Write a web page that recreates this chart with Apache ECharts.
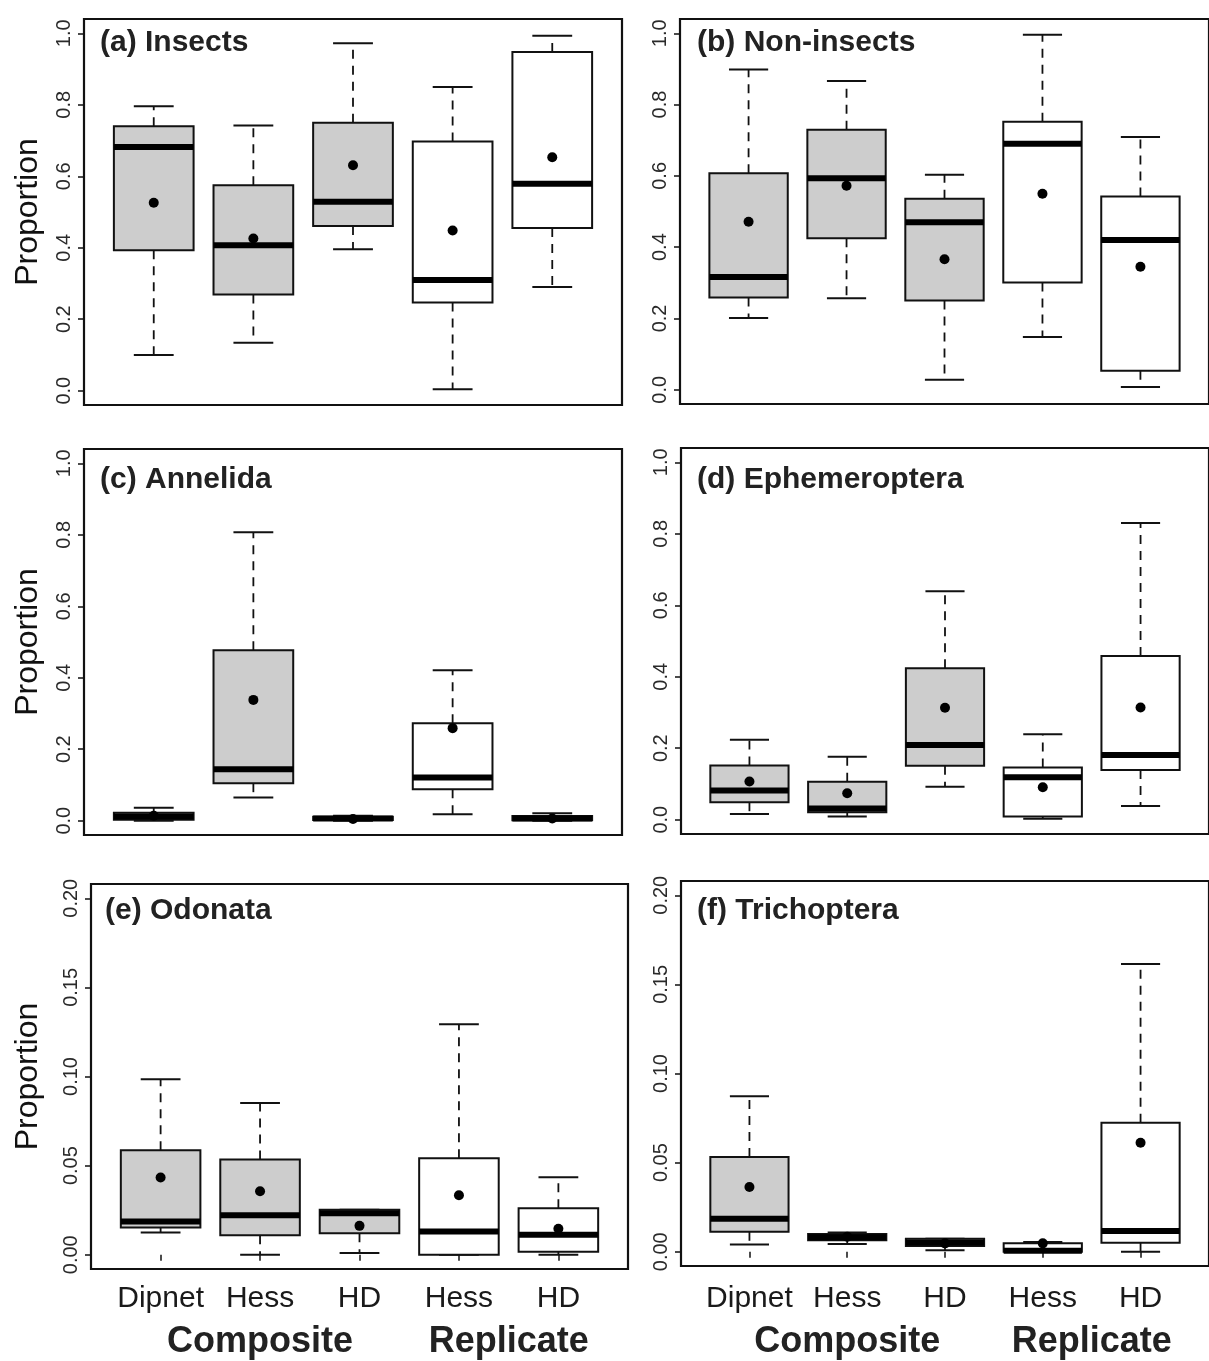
<!DOCTYPE html>
<html>
<head>
<meta charset="utf-8">
<script src="https://cdn.jsdelivr.net/npm/echarts@6/dist/echarts.min.js"></script>
<style>
  html, body { margin: 0; padding: 0; background: #fff; }
  #chart { width: 1209px; height: 1361px; }
</style>
</head>
<body>
<div id="chart"></div>
<script>
// ---- Data ----
const boxLabels = ['Dipnet', 'Hess', 'HD', 'Hess', 'HD'];
const boxMethods = ['Composite', 'Composite', 'Composite', 'Replicate', 'Replicate'];
const groupLabels = ['Composite', 'Replicate'];
const panelTitles = ['(a) Insects', '(b) Non-insects', '(c) Annelida', '(d) Ephemeroptera', '(e) Odonata', '(f) Trichoptera'];
const ticksUnit = [0, 0.2, 0.4, 0.6, 0.8, 1.0];
const ticksSmall = [0, 0.05, 0.10, 0.15, 0.20];

// each box: [lower whisker, Q1, median, Q3, upper whisker]
const insects = [
  [0.100, 0.393, 0.682, 0.740, 0.796],
  [0.134, 0.269, 0.407, 0.575, 0.742],
  [0.396, 0.461, 0.529, 0.750, 0.972],
  [0.004, 0.247, 0.310, 0.697, 0.850],
  [0.290, 0.455, 0.579, 0.948, 0.993]
];
const insectsMean = [0.526, 0.426, 0.631, 0.448, 0.653];

const nonInsects = [
  [0.201, 0.259, 0.316, 0.607, 0.898],
  [0.257, 0.425, 0.593, 0.729, 0.866],
  [0.028, 0.250, 0.470, 0.536, 0.603],
  [0.148, 0.301, 0.690, 0.752, 0.996],
  [0.008, 0.053, 0.420, 0.542, 0.709]
];
const nonInsectsMean = [0.471, 0.572, 0.366, 0.550, 0.345];

const annelida = [
  [0.000, 0.003, 0.012, 0.022, 0.036],
  [0.065, 0.105, 0.144, 0.477, 0.807],
  [0.000, 0.002, 0.006, 0.011, 0.014],
  [0.018, 0.088, 0.121, 0.273, 0.421],
  [0.000, 0.001, 0.006, 0.013, 0.021]
];
const annelidaMean = [0.014, 0.338, 0.005, 0.259, 0.006];

const ephemeroptera = [
  [0.016, 0.049, 0.082, 0.152, 0.224],
  [0.009, 0.021, 0.031, 0.106, 0.176],
  [0.092, 0.151, 0.209, 0.424, 0.639],
  [0.003, 0.009, 0.119, 0.146, 0.239],
  [0.038, 0.139, 0.181, 0.458, 0.830]
];
const ephemeropteraMean = [0.107, 0.074, 0.313, 0.091, 0.314];

const odonata = [
  [0.0125, 0.0153, 0.0187, 0.0586, 0.0985],
  [0.0000, 0.0110, 0.0222, 0.0535, 0.0851],
  [0.0010, 0.0121, 0.0233, 0.0252, 0.0252],
  [0.0000, 0.0000, 0.0131, 0.0541, 0.1293],
  [0.0000, 0.0017, 0.0112, 0.0261, 0.0435]
];
const odonataMean = [0.0433, 0.0356, 0.0162, 0.0334, 0.0146];

const trichoptera = [
  [0.0041, 0.0112, 0.0185, 0.0531, 0.0873],
  [0.0043, 0.0064, 0.0082, 0.0099, 0.0108],
  [0.0009, 0.0032, 0.0052, 0.0073, 0.0073],
  [0.0000, 0.0000, 0.0005, 0.0047, 0.0054],
  [0.0000, 0.0050, 0.0116, 0.0723, 0.1615]
];
const trichopteraMean = [0.0363, 0.0084, 0.0047, 0.0047, 0.0611];

// ---- Layout ----
const panelStats = [insects, nonInsects, annelida, ephemeroptera, odonata, trichoptera];
const panelMeans = [insectsMean, nonInsectsMean, annelidaMean, ephemeropteraMean, odonataMean, trichopteraMean];
const grids = [
  { left: 84,  top: 19,  width: 538, height: 386 },
  { left: 680, top: 19,  width: 538, height: 385 },
  { left: 84,  top: 449, width: 538, height: 386 },
  { left: 681, top: 448, width: 538, height: 386 },
  { left: 91,  top: 884, width: 537, height: 385 },
  { left: 681, top: 881, width: 537, height: 385 }
];
const titlePos = [[100, 28], [697, 28], [100, 465], [697, 465], [105, 896], [697, 896]];
const labelMargins = [15, 18];
const groupMargins = [55, 58];
const FONT = '"Liberation Sans", Arial, Helvetica, sans-serif';

const chart = echarts.init(document.getElementById('chart'), null, { renderer: 'canvas' });

const option = {
  backgroundColor: '#ffffff',
  animation: false,
  title: [],
  grid: [],
  xAxis: [],
  yAxis: [],
  series: []
};

const groupAxes = [];

for (let p = 0; p < 6; p++) {
  const small = p >= 4;
  const ticks = small ? ticksSmall : ticksUnit;
  const yMin = small ? -0.008 : -0.04;
  const yMax = small ? 0.208 : 1.04;
  const showY = (p % 2 === 0);
  const bottomRow = p >= 4;

  option.grid.push(Object.assign({
    show: true, borderColor: '#111', borderWidth: 2.2, backgroundColor: 'transparent'
  }, grids[p]));

  option.title.push({
    text: panelTitles[p],
    left: titlePos[p][0], top: titlePos[p][1], padding: 0,
    textStyle: { fontFamily: FONT, fontSize: 30, fontWeight: 'bold', color: '#222' }
  });

  option.xAxis.push({
    type: 'value', gridIndex: p, min: 0.3, max: 5.7, position: 'bottom',
    splitLine: { show: false },
    axisLine: { show: false },
    axisTick: bottomRow ? { show: true, customValues: [1, 2, 3, 4, 5], length: 6, lineStyle: { color: '#111', width: 1.5 } } : { show: false },
    axisLabel: bottomRow ? {
      show: true, customValues: [1, 2, 3, 4, 5], margin: labelMargins[p - 4],
      formatter: v => boxLabels[Math.round(v) - 1] || '',
      fontFamily: FONT, fontSize: 30, color: '#1a1a1a'
    } : { show: false }
  });

  option.yAxis.push({
    type: 'value', gridIndex: p, min: yMin, max: yMax,
    splitLine: { show: false },
    axisLine: { show: false },
    axisTick: { show: true, customValues: ticks, length: 6, lineStyle: { color: '#111', width: 1.5 } },
    axisLabel: {
      show: true, customValues: ticks, rotate: 90, margin: 10,
      formatter: v => v.toFixed(small ? 2 : 1),
      fontFamily: FONT, fontSize: 20, color: '#2a2a2a'
    },
    name: showY ? 'Proportion' : '',
    nameLocation: 'middle', nameRotate: 90, nameGap: small ? 47 : 40,
    nameTextStyle: { fontFamily: FONT, fontSize: 32, color: '#111' }
  });

  const stats = panelStats[p];
  const means = panelMeans[p];
  const data = stats.map((s, i) => [i + 1, s[0], s[1], s[2], s[3], s[4], means[i]]);

  option.series.push({
    type: 'custom',
    xAxisIndex: p, yAxisIndex: p,
    encode: { x: 0, y: [1, 2, 3, 4, 5, 6] },
    data: data,
    clip: false,
    renderItem: function (params, api) {
      const x = api.value(0);
      const idx = params.dataIndex;
      const xc = api.coord([x, 0])[0];
      const xl = api.coord([x - 0.4, 0])[0];
      const xr = api.coord([x + 0.4, 0])[0];
      const sl = api.coord([x - 0.2, 0])[0];
      const sr = api.coord([x + 0.2, 0])[0];
      const yLow = api.coord([x, api.value(1)])[1];
      const yQ1 = api.coord([x, api.value(2)])[1];
      const yMed = api.coord([x, api.value(3)])[1];
      const yQ3 = api.coord([x, api.value(4)])[1];
      const yHigh = api.coord([x, api.value(5)])[1];
      const yMean = api.coord([x, api.value(6)])[1];
      const fill = boxMethods[idx] === 'Composite' ? '#cdcdcd' : '#ffffff';
      const dash = { stroke: '#111', lineWidth: 1.8, lineDash: [9, 7] };
      const solid = { stroke: '#111', lineWidth: 2 };
      return {
        type: 'group',
        children: [
          { type: 'line', shape: { x1: xc, y1: yQ3, x2: xc, y2: yHigh }, style: dash },
          { type: 'line', shape: { x1: xc, y1: yQ1, x2: xc, y2: yLow }, style: dash },
          { type: 'line', shape: { x1: sl, y1: yHigh, x2: sr, y2: yHigh }, style: solid },
          { type: 'line', shape: { x1: sl, y1: yLow, x2: sr, y2: yLow }, style: solid },
          { type: 'rect', shape: { x: xl, y: yQ3, width: xr - xl, height: yQ1 - yQ3 },
            style: { fill: fill, stroke: '#111', lineWidth: 2 } },
          { type: 'line', shape: { x1: xl, y1: yMed, x2: xr, y2: yMed },
            style: { stroke: '#000', lineWidth: 6 } },
          { type: 'circle', shape: { cx: xc, cy: yMean, r: 5 }, style: { fill: '#000' } }
        ]
      };
    }
  });

  if (bottomRow) {
    // group labels (Composite / Replicate) as a second x axis on the same grid
    groupAxes.push({
      type: 'value', gridIndex: p, min: 0.3, max: 5.7, position: 'bottom',
      splitLine: { show: false }, axisLine: { show: false }, axisTick: { show: false },
      axisLabel: {
        show: true, customValues: [2, 4.5], margin: groupMargins[p - 4],
        formatter: v => (v < 3 ? groupLabels[0] : groupLabels[1]),
        fontFamily: FONT, fontSize: 36, fontWeight: 'bold', color: '#222'
      }
    });
  }
}
groupAxes.forEach(a => option.xAxis.push(a));

chart.setOption(option);
</script>
</body>
</html>
